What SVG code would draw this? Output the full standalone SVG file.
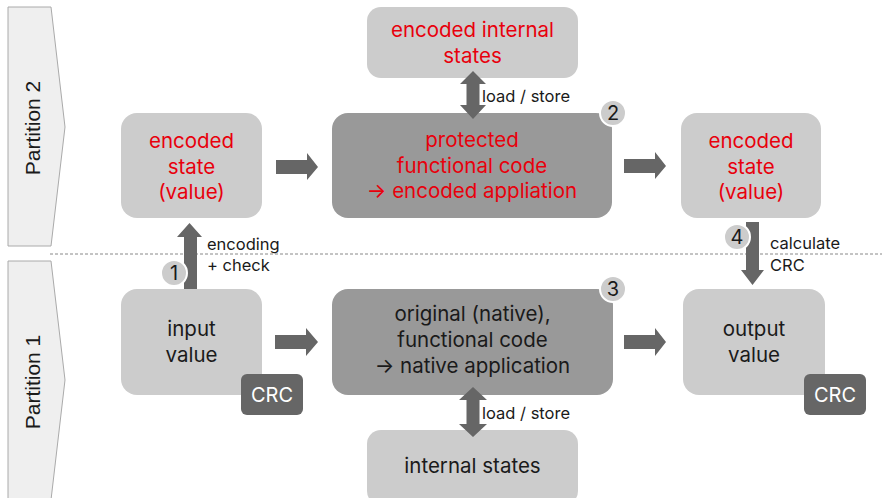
<svg xmlns="http://www.w3.org/2000/svg" width="882" height="498" viewBox="0 0 882 498">
<defs>
<style>
.t{font-family:Inter,"Open Sans",sans-serif;text-anchor:middle}
.big{font-size:20.5px}
.red{fill:#e8000c}
.blk{fill:#1a1a1a}
.sm{font-family:Inter,"Open Sans",sans-serif;font-size:16.5px;fill:#1a1a1a}
.lt{fill:#cccccc}
.dk{fill:#999999}
.arr{fill:#666666}
.badge{fill:#cccccc;stroke:#ffffff;stroke-width:2}
.bn{font-family:Inter,"Open Sans",sans-serif;font-size:20px;fill:#1a1a1a;text-anchor:middle}
.crc{fill:#666666}
.crct{font-family:Inter,"Open Sans",sans-serif;font-size:20px;fill:#ffffff;text-anchor:middle}
.part{fill:#efefef;stroke:#aaaaaa;stroke-width:1}
.pt{font-family:"Liberation Sans",Arial,sans-serif;font-size:21px;fill:#1a1a1a;text-anchor:middle}
</style>
</defs>

<g id="partition2">
<polygon class="part" points="8,7 51,7 65,127 51,246 8,246"/>
<text class="pt" transform="translate(40,128) rotate(-90)">Partition 2</text>
</g>
<g id="partition1">
<polygon class="part" points="8,261 51,261 65,380 51,500 8,500"/>
<text class="pt" transform="translate(40,382) rotate(-90)">Partition 1</text>
</g>

<line x1="50" y1="254" x2="882" y2="254" stroke="#888888" stroke-width="1" stroke-dasharray="3,2"/>

<g id="encoded-internal-states">
<rect class="lt" x="367" y="7" width="211" height="71" rx="14"/>
<text class="t big red" x="472.5" y="37">encoded internal</text>
<text class="t big red" x="472.5" y="63">states</text>
</g>

<g id="encoded-state-in">
<rect class="lt" x="121" y="113" width="141" height="105" rx="16"/>
<text class="t big red" x="191.5" y="148">encoded</text>
<text class="t big red" x="191.5" y="174">state</text>
<text class="t big red" x="191.5" y="199">(value)</text>
</g>

<g id="protected-code">
<rect class="dk" x="332" y="113" width="280" height="105" rx="16"/>
<text class="t big red" x="472" y="147">protected</text>
<text class="t big red" x="472" y="173">functional code</text>
<text class="t big red" x="472" y="198">→ encoded appliation</text>
</g>

<g id="encoded-state-out">
<rect class="lt" x="681" y="113" width="140" height="105" rx="16"/>
<text class="t big red" x="751" y="148">encoded</text>
<text class="t big red" x="751" y="174">state</text>
<text class="t big red" x="751" y="199">(value)</text>
</g>

<g id="input-value">
<rect class="lt" x="121" y="289" width="141" height="106" rx="16"/>
<text class="t big blk" x="191.5" y="336">input</text>
<text class="t big blk" x="191.5" y="362">value</text>
<rect class="crc" x="241" y="374" width="62" height="41" rx="6"/>
<text class="crct" x="272" y="402">CRC</text>
</g>

<g id="native-code">
<rect class="dk" x="332" y="289" width="281" height="106" rx="16"/>
<text class="t big blk" x="472.5" y="321">original (native),</text>
<text class="t big blk" x="472.5" y="347">functional code</text>
<text class="t big blk" x="472.5" y="373">→ native application</text>
</g>

<g id="output-value">
<rect class="lt" x="683" y="289" width="142" height="106" rx="16"/>
<text class="t big blk" x="754" y="336">output</text>
<text class="t big blk" x="754" y="362">value</text>
<rect class="crc" x="804" y="374" width="62" height="41" rx="6"/>
<text class="crct" x="835" y="402">CRC</text>
</g>

<g id="internal-states">
<rect class="lt" x="367" y="430" width="211" height="75" rx="14"/>
<text class="t big blk" x="472.5" y="473">internal states</text>
</g>

<g id="connectors">
<polygon class="arr" points="276,160 307,160 307,153 318,167 307,180 307,174 276,174"/>
<polygon class="arr" points="624,159 655,159 655,152 666,166 655,179 655,173 624,173"/>
<polygon class="arr" points="275,335 306,335 306,328 318,342 306,356 306,349 275,349"/>
<polygon class="arr" points="624,335 655,335 655,328 666,342 655,356 655,349 624,349"/>
<polygon class="arr" points="184,289 184,237 177,237 189.5,223 202,237 197,237 197,289"/>
<polygon class="arr" points="746,222 759,222 759,270 764,270 752.5,285 741,270 746,270"/>
<polygon class="arr" points="473,71 486,84 479.5,84 479.5,105 486,105 473,119 460,105 466.5,105 466.5,84 460,84"/>
<polygon class="arr" points="473,387 487,400 479.5,400 479.5,424 487,424 473,437 459,424 466.5,424 466.5,400 459,400"/>
<text class="sm" x="482" y="102">load / store</text>
<text class="sm" x="482" y="419">load / store</text>
<text class="sm" x="207" y="250">encoding</text>
<text class="sm" x="207" y="271">+ check</text>
<text class="sm" x="770" y="249">calculate</text>
<text class="sm" x="770" y="271">CRC</text>
</g>

<g id="badge1"><circle class="badge" cx="174" cy="273" r="13"/><text class="bn" x="174" y="280">1</text></g>
<g id="badge2"><circle class="badge" cx="613" cy="113" r="13"/><text class="bn" x="613" y="120">2</text></g>
<g id="badge3"><circle class="badge" cx="613" cy="289" r="13"/><text class="bn" x="613" y="296">3</text></g>
<g id="badge4"><circle class="badge" cx="737" cy="237" r="13"/><text class="bn" x="737" y="244">4</text></g>
</svg>
